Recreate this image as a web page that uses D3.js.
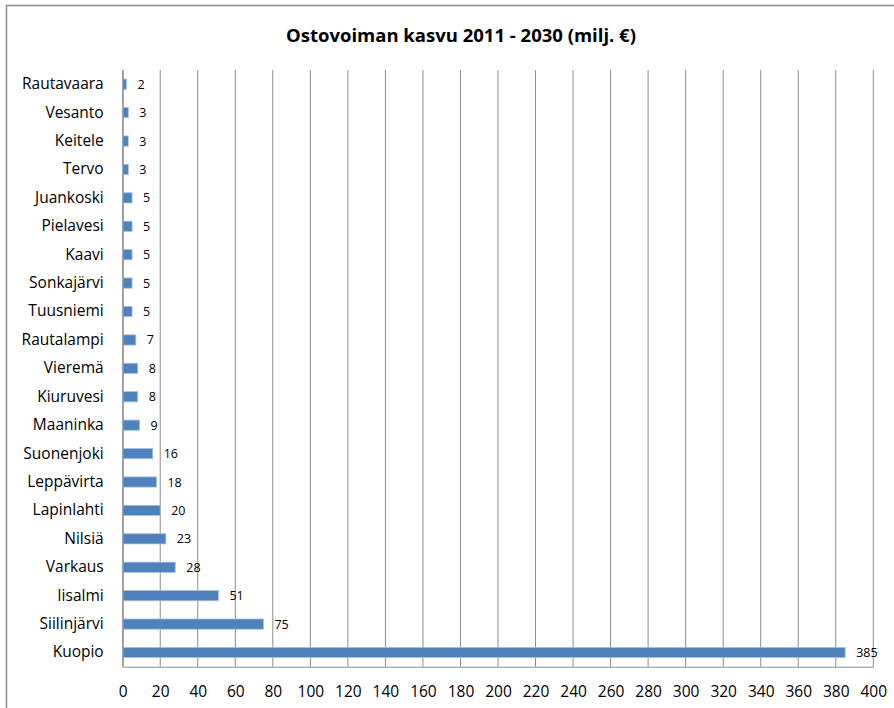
<!DOCTYPE html>
<html>
<head>
<meta charset="utf-8">
<script src="https://cdn.jsdelivr.net/npm/d3@7"></script>
<style>
  html, body { margin: 0; padding: 0; background: #fff; }
  svg { display: block; }
  text { font-family: "Open Sans", Lato, sans-serif; fill: #000; }
</style>
</head>
<body>
<svg id="chart" width="894" height="708"></svg>
<script>
// Municipalities, top to bottom
const municipalities = [
  "Rautavaara", "Vesanto", "Keitele", "Tervo", "Juankoski", "Pielavesi",
  "Kaavi", "Sonkajärvi", "Tuusniemi", "Rautalampi", "Vieremä", "Kiuruvesi",
  "Maaninka", "Suonenjoki", "Leppävirta", "Lapinlahti", "Nilsiä", "Varkaus",
  "Iisalmi", "Siilinjärvi", "Kuopio"
];
// Growth of purchasing power 2011–2030, million euros
const growth = [2, 3, 3, 3, 5, 5, 5, 5, 5, 7, 8, 8, 9, 16, 18, 20, 23, 28, 51, 75, 385];
const xTicks = d3.range(0, 401, 20);
const titleText = "Ostovoiman kasvu 2011 - 2030 (milj. €)";

const svg = d3.select("#chart");
const margin = { left: 122.7, right: 873.3, top: 70, bottom: 666.7 };
const font = "'Open Sans', Lato, sans-serif";

// Outer chart frame
svg.append("rect")
  .attr("x", 6.5).attr("y", 5.5)
  .attr("width", 920).attr("height", 730)
  .attr("fill", "none")
  .attr("stroke", "#8c8c8c")
  .attr("stroke-width", 1.5);

svg.append("text")
  .attr("x", 461).attr("y", 41.5)
  .attr("text-anchor", "middle")
  .style("font-size", "18.5px")
  .style("font-weight", "bold")
  .text(titleText);

const x = d3.scaleLinear().domain([0, 400]).range([margin.left, margin.right]);
const y = d3.scaleBand().domain(municipalities).range([margin.top, margin.bottom]).paddingInner(0.64).paddingOuter(0.32);

// Vertical gridlines
svg.append("g")
  .selectAll("line")
  .data(xTicks)
  .join("line")
  .attr("x1", d => x(d)).attr("x2", d => x(d))
  .attr("y1", margin.top).attr("y2", margin.bottom)
  .attr("stroke", "#8c8c8c")
  .attr("stroke-width", 1);

// Bars
svg.append("g")
  .selectAll("rect")
  .data(municipalities)
  .join("rect")
  .attr("x", x(0))
  .attr("y", d => y(d))
  .attr("width", (d, i) => x(growth[i]) - x(0))
  .attr("height", y.bandwidth())
  .attr("fill", "#4f81bd")
  .attr("stroke", "#a9c1e0")
  .attr("stroke-width", 0.8);

// Value labels
svg.append("g")
  .selectAll("text")
  .data(municipalities)
  .join("text")
  .attr("x", (d, i) => x(growth[i]) + 11)
  .attr("y", d => y(d) + y.bandwidth() / 2)
  .attr("dy", "0.36em")
  .style("font-size", "12.5px")
  .text((d, i) => growth[i]);

// Axes
const xAxis = d3.axisBottom(x).tickValues(xTicks).tickSize(0).tickPadding(19).tickFormat(d3.format("d"));
const gx = svg.append("g").attr("transform", `translate(0,${margin.bottom})`).call(xAxis);
gx.select(".domain").attr("stroke", "#8c8c8c");
gx.selectAll("text").style("font-size", "15.5px").style("font-family", font);

const yAxis = d3.axisLeft(y).tickSize(0).tickPadding(19);
const gy = svg.append("g").attr("transform", `translate(${margin.left},0)`).call(yAxis);
gy.select(".domain").attr("stroke", "#8c8c8c");
gy.selectAll("text").style("font-size", "15.5px").style("font-family", font);
</script>
</body>
</html>
